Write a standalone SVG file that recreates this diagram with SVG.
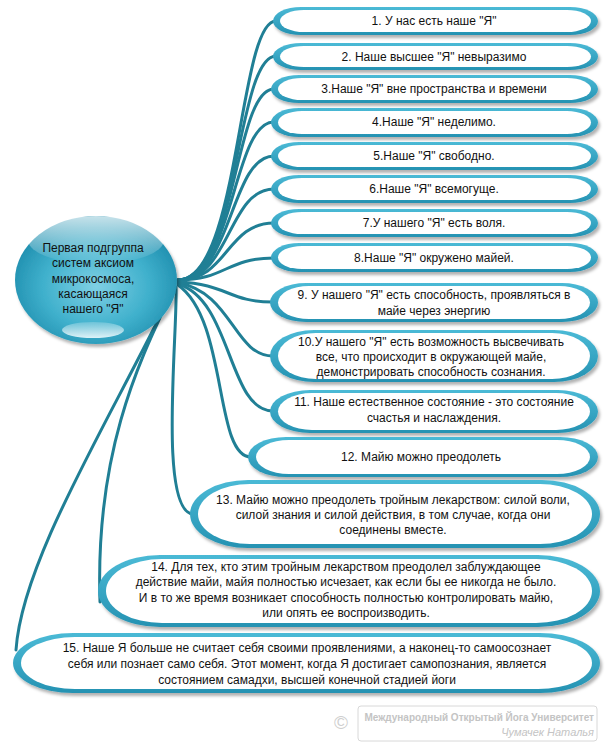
<svg xmlns="http://www.w3.org/2000/svg" width="608" height="751" viewBox="0 0 608 751">
<defs>
<filter id="sh" x="-10%" y="-20%" width="120%" height="150%">
<feDropShadow dx="2" dy="3" stdDeviation="1.8" flood-color="#000" flood-opacity="0.3"/>
</filter>
<linearGradient id="bd" x1="0" y1="0" x2="0" y2="1">
<stop offset="0" stop-color="#4bbad6"/>
<stop offset="1" stop-color="#2592b2"/>
</linearGradient>
<radialGradient id="cg" cx="0.5" cy="0.55" r="0.55">
<stop offset="0" stop-color="#7fd0e4"/>
<stop offset="0.6" stop-color="#3fb0cc"/>
<stop offset="1" stop-color="#1f8eae"/>
</radialGradient>
<linearGradient id="hl" x1="0" y1="0" x2="0" y2="1">
<stop offset="0" stop-color="#ffffff" stop-opacity="0.75"/>
<stop offset="1" stop-color="#ffffff" stop-opacity="0"/>
</linearGradient>
<linearGradient id="hb" x1="0" y1="0" x2="0" y2="1">
<stop offset="0" stop-color="#ffffff" stop-opacity="0.2"/>
<stop offset="1" stop-color="#e6f7fb" stop-opacity="0.95"/>
</linearGradient>
</defs>
<style>
.o{fill:url(#bd);filter:url(#sh)}
.i{fill:#ffffff}
.t{font-family:"Liberation Sans",Arial,sans-serif;font-size:12px;fill:#111;text-anchor:middle}
.c{fill:none;stroke:#207f95;stroke-width:3;stroke-linecap:round}
.w1{font-family:"Liberation Sans",Arial,sans-serif;font-size:10px;font-weight:bold;fill:#c4c4c4;text-anchor:end}
.w2{font-family:"Liberation Sans",Arial,sans-serif;font-size:11px;font-style:italic;fill:#c4c4c4;text-anchor:end}
</style>
<rect width="608" height="751" fill="#ffffff"/>
<g id="connectors">
<path class="c" d="M178,280 C240,280 238,21 276,21"/>
<path class="c" d="M178,280 C238,280 236,56 276,56"/>
<path class="c" d="M178,280 C236,280 234,89 274,89"/>
<path class="c" d="M178,280 C234,280 232,122 274,122"/>
<path class="c" d="M178,280 C232,280 230,156 274,156"/>
<path class="c" d="M178,280 C230,280 228,189 274,189"/>
<path class="c" d="M178,280 C228,280 226,223 274,223"/>
<path class="c" d="M178,280 C226,280 226,258 274,258"/>
<path class="c" d="M178,282 C228,284 228,302 273,302"/>
<path class="c" d="M178,283 C232,292 234,356 273,356"/>
<path class="c" d="M178,284 C232,300 228,411 273,411"/>
<path class="c" d="M178,285 C228,320 214,457 251,457"/>
<path class="c" d="M176,287 C178,330 158,512 193,514"/>
<path class="c" d="M172,292 C140,360 95,450 100,602"/>
<path class="c" d="M170,296 C110,420 22,560 16,650"/>
</g>
<g id="center">
<ellipse cx="96" cy="280" rx="81" ry="64" fill="url(#cg)" filter="url(#sh)"/>
<ellipse cx="96" cy="240" rx="68" ry="24" fill="url(#hl)"/>
<ellipse cx="93" cy="330" rx="31" ry="8" fill="url(#hb)"/>
<text class="t" x="93"><tspan x="93" y="252">Первая подгруппа</tspan><tspan x="93" y="267">систем аксиом</tspan><tspan x="93" y="283">микрокосмоса,</tspan><tspan x="93" y="298">касающаяся</tspan><tspan x="93" y="313">нашего "Я"</tspan></text>
</g>
<g id="n1"><rect class="o" x="273" y="7" width="325" height="28" rx="28" ry="14"/><rect class="i" x="280" y="10" width="311" height="22" rx="24" ry="11"/><text class="t" x="434" y="25">1. У нас есть наше "Я"</text></g>
<g id="n2"><rect class="o" x="273" y="43" width="325" height="27" rx="28" ry="13.5"/><rect class="i" x="280" y="46" width="311" height="21" rx="24" ry="10.5"/><text class="t" x="434" y="61">2. Наше высшее "Я" невыразимо</text></g>
<g id="n3"><rect class="o" x="271" y="75" width="327" height="28" rx="28" ry="14"/><rect class="i" x="278" y="78" width="313" height="22" rx="24" ry="11"/><text class="t" x="434" y="93">3.Наше "Я" вне пространства и времени</text></g>
<g id="n4"><rect class="o" x="271" y="108" width="327" height="29" rx="28" ry="14.5"/><rect class="i" x="278" y="111" width="313" height="23" rx="24" ry="11.5"/><text class="t" x="434" y="126">4.Наше "Я" неделимо.</text></g>
<g id="n5"><rect class="o" x="271" y="142" width="327" height="28" rx="28" ry="14"/><rect class="i" x="278" y="145" width="313" height="22" rx="24" ry="11"/><text class="t" x="434" y="160">5.Наше "Я" свободно.</text></g>
<g id="n6"><rect class="o" x="271" y="175" width="327" height="28" rx="28" ry="14"/><rect class="i" x="278" y="178" width="313" height="22" rx="24" ry="11"/><text class="t" x="434" y="193">6.Наше "Я" всемогуще.</text></g>
<g id="n7"><rect class="o" x="271" y="209" width="327" height="28" rx="28" ry="14"/><rect class="i" x="278" y="212" width="313" height="22" rx="24" ry="11"/><text class="t" x="434" y="227">7.У нашего "Я" есть воля.</text></g>
<g id="n8"><rect class="o" x="271" y="243" width="327" height="29" rx="28" ry="14.5"/><rect class="i" x="278" y="246" width="313" height="23" rx="24" ry="11.5"/><text class="t" x="434" y="262">8.Наше "Я" окружено майей.</text></g>
<g id="n9"><rect class="o" x="270" y="283" width="328" height="39" rx="36" ry="19.5"/><rect class="i" x="278" y="286" width="312" height="33" rx="31" ry="16.5"/><text class="t" x="434"><tspan x="434" y="299">9. У нашего "Я" есть способность, проявляться в</tspan><tspan x="434" y="315">майе через энергию</tspan></text></g>
<g id="n10"><rect class="o" x="270" y="330" width="328" height="52" rx="44" ry="26"/><rect class="i" x="278" y="333" width="312" height="46" rx="38" ry="23"/><text class="t" x="431"><tspan x="431" y="346">10.У нашего "Я" есть возможность высвечивать</tspan><tspan x="431" y="361">все, что происходит в окружающей майе,</tspan><tspan x="431" y="376">демонстрировать способность сознания.</tspan></text></g>
<g id="n11"><rect class="o" x="270" y="390" width="328" height="43" rx="40" ry="21.5"/><rect class="i" x="278" y="393" width="312" height="37" rx="34" ry="18.5"/><text class="t" x="434"><tspan x="434" y="406">11. Наше естественное состояние - это состояние</tspan><tspan x="434" y="422">счастья и наслаждения.</tspan></text></g>
<g id="n12"><rect class="o" x="248" y="437" width="350" height="40" rx="38" ry="20"/><rect class="i" x="256" y="440" width="334" height="34" rx="33" ry="17"/><text class="t" x="421" y="461">12. Майю можно преодолеть</text></g>
<g id="n13"><rect class="o" x="190" y="480" width="410" height="68" rx="58" ry="34"/><rect class="i" x="198" y="484" width="394" height="60" rx="52" ry="30"/><text class="t" x="393"><tspan x="393" y="504">13. Майю можно преодолеть тройным лекарством: силой воли,</tspan><tspan x="393" y="519">силой знания и силой действия, в том случае, когда они</tspan><tspan x="393" y="534">соединены вместе.</tspan></text></g>
<g id="n14"><rect class="o" x="98" y="555" width="502" height="72" rx="62" ry="36"/><rect class="i" x="106" y="559" width="486" height="64" rx="56" ry="32"/><text class="t" x="346"><tspan x="346" y="571">14. Для тех, кто этим тройным лекарством преодолел заблуждающее</tspan><tspan x="346" y="586">действие майи, майя полностью исчезает, как если бы ее никогда не было.</tspan><tspan x="346" y="602">И в то же время возникает способность полностью контролировать майю,</tspan><tspan x="346" y="617">или опять ее воспроизводить.</tspan></text></g>
<g id="n15"><rect class="o" x="13" y="633" width="587" height="60" rx="60" ry="30"/><rect class="i" x="21" y="637" width="571" height="52" rx="54" ry="26"/><text class="t" x="307"><tspan x="307" y="652">15. Наше Я больше не считает себя своими проявлениями, а наконец-то самоосознает</tspan><tspan x="307" y="668">себя или познает само себя. Этот момент, когда Я достигает самопознания, является</tspan><tspan x="307" y="684">состоянием самадхи, высшей конечной стадией йоги</tspan></text></g>
<g id="watermark">
<text x="341" y="729" font-family="Liberation Sans,Arial,sans-serif" font-size="19" fill="#cfcfcf" text-anchor="middle">©</text>
<rect x="358" y="706" width="239" height="35" rx="3" fill="#ffffff" stroke="#d8d8d8" stroke-width="1"/>
<text class="w1" x="594" y="721">Международный Открытый Йога Университет</text>
<text class="w2" x="594" y="736">Чумачек Наталья</text>
</g>
</svg>
